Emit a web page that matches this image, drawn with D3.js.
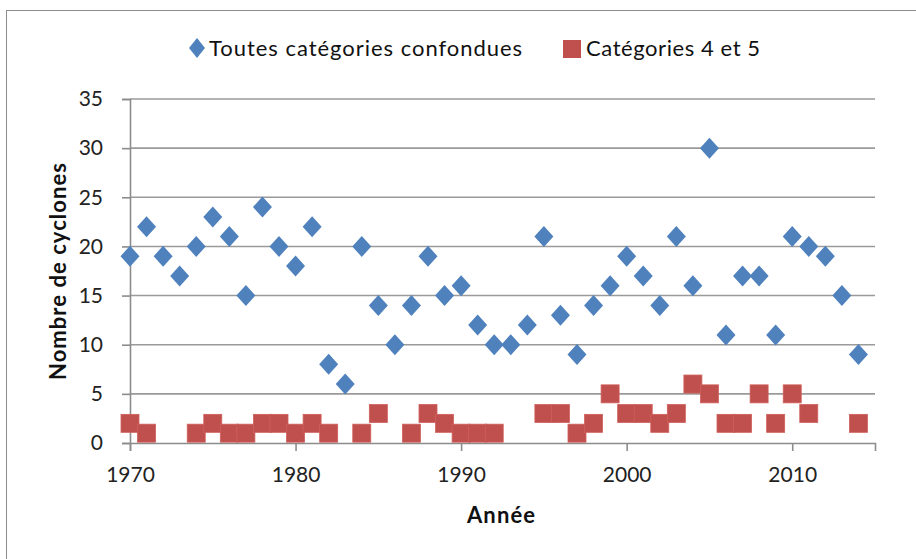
<!DOCTYPE html>
<html>
<head>
<meta charset="utf-8">
<script src="https://cdn.jsdelivr.net/npm/d3@7"></script>
<style>
  html, body { margin: 0; padding: 0; background: #fff; }
  svg { display: block; font-family: Lato, "Open Sans", sans-serif; }
</style>
</head>
<body>
<svg id="chart" width="916" height="559"></svg>
<script>
const years = [1970,1971,1972,1973,1974,1975,1976,1977,1978,1979,
  1980,1981,1982,1983,1984,1985,1986,1987,1988,1989,
  1990,1991,1992,1993,1994,1995,1996,1997,1998,1999,
  2000,2001,2002,2003,2004,2005,2006,2007,2008,2009,
  2010,2011,2012,2013,2014];
const allCategories = [19,22,19,17,20,23,21,15,24,20,
  18,22,8,6,20,14,10,14,19,15,
  16,12,10,10,12,21,13,9,14,16,
  19,17,14,21,16,30,11,17,17,11,
  21,20,19,15,9];
const cat45 = [2,1,null,null,1,2,1,1,2,2,
  1,2,1,null,1,3,null,1,3,2,
  1,1,1,null,null,3,3,1,2,5,
  3,3,2,3,6,5,2,2,5,2,
  5,3,null,null,2];
const xTicks = [1970,1980,1990,2000,2010];
const yTicks = [0,5,10,15,20,25,30,35];
const seriesNames = ["Toutes catégories confondues", "Catégories 4 et 5"];
const colors = ["#4F81BD", "#C0504D"];
const xTitle = "Année";
const yTitle = "Nombre de cyclones";

const svg = d3.select("#chart");
const x = d3.scaleLinear().domain([1970, 2015]).range([130, 875]);
const y = d3.scaleLinear().domain([0, 35]).range([443, 99]);
const axisColor = "#8c8c8c";
const fontSize = 22;

// fit a text element to a target width by adjusting letter spacing
function fit(sel, width) {
  const n = sel.node();
  const w = n.getComputedTextLength();
  const chars = n.textContent.length;
  if (chars > 1) sel.attr("letter-spacing", ((width - w) / (chars - 1)).toFixed(2));
  return sel;
}

// frame
svg.append("rect").attr("x", 6.5).attr("y", 10.5).attr("width", 1200).attr("height", 1200)
  .attr("fill", "none").attr("stroke", "#8c8c8c").attr("stroke-width", 1);

// gridlines
svg.append("g").selectAll("line").data(yTicks.filter(d => d > 0)).join("line")
  .attr("x1", x(1970)).attr("x2", x(2015))
  .attr("y1", d => y(d)).attr("y2", d => y(d))
  .attr("stroke", "#9a9a9a").attr("stroke-width", 1.6);

// y axis
const yAxis = svg.append("g").attr("transform", `translate(${x(1970)},0)`)
  .call(d3.axisLeft(y).tickValues(yTicks).tickSize(8).tickPadding(19));
yAxis.select(".domain").attr("stroke", axisColor).attr("stroke-width", 1.6);
yAxis.selectAll(".tick line").attr("stroke", axisColor).attr("stroke-width", 1.6);
yAxis.selectAll("text").attr("font-size", 21).attr("fill", "#222")
  .attr("font-family", "Lato, sans-serif");

// x axis
const xAxis = svg.append("g").attr("transform", `translate(0,${y(0)})`)
  .call(d3.axisBottom(x).tickValues(xTicks).tickFormat(d3.format("d")).tickSize(8).tickPadding(16));
xAxis.select(".domain").attr("stroke", axisColor).attr("stroke-width", 1.6);
xAxis.selectAll(".tick line").attr("stroke", axisColor).attr("stroke-width", 1.6);
xAxis.selectAll("text").attr("font-size", 21).attr("fill", "#222")
  .attr("font-family", "Lato, sans-serif");

// series 2: squares
const sq = 18;
svg.append("g").selectAll("rect").data(years.map((yr, i) => ({yr, v: cat45[i]})).filter(d => d.v !== null))
  .join("rect")
  .attr("x", d => x(d.yr) - sq / 2).attr("y", d => y(d.v) - sq / 2)
  .attr("width", sq).attr("height", sq)
  .attr("fill", colors[1]).attr("stroke", "#d0605c").attr("stroke-width", 0.8);

// series 1: diamonds
const diamond = (cx, cy, w, h) => `M${cx},${cy - h} L${cx + w},${cy} L${cx},${cy + h} L${cx - w},${cy} Z`;
svg.append("g").selectAll("path").data(years.map((yr, i) => ({yr, v: allCategories[i]})))
  .join("path")
  .attr("d", d => diamond(x(d.yr), y(d.v), 9.5, 10.5))
  .attr("fill", colors[0]);

// axis titles
fit(svg.append("text").attr("x", 467).attr("y", 523)
  .attr("font-size", fontSize).attr("font-weight", "bold")
  .attr("fill", "#111").text(xTitle), 68);
fit(svg.append("text").attr("transform", `translate(66,380) rotate(-90)`)
  .attr("font-size", fontSize).attr("font-weight", "bold")
  .attr("fill", "#111").text(yTitle), 217);

// legend
const lg = svg.append("g");
lg.append("path").attr("d", diamond(197, 48, 8, 10)).attr("fill", colors[0]);
fit(lg.append("text").attr("x", 209).attr("y", 56).attr("font-size", fontSize).attr("fill", "#111")
  .text(seriesNames[0]), 313);
lg.append("rect").attr("x", 563).attr("y", 40).attr("width", 18).attr("height", 18).attr("fill", colors[1]);
fit(lg.append("text").attr("x", 586).attr("y", 56).attr("font-size", fontSize).attr("fill", "#111")
  .text(seriesNames[1]), 174);
</script>
</body>
</html>
